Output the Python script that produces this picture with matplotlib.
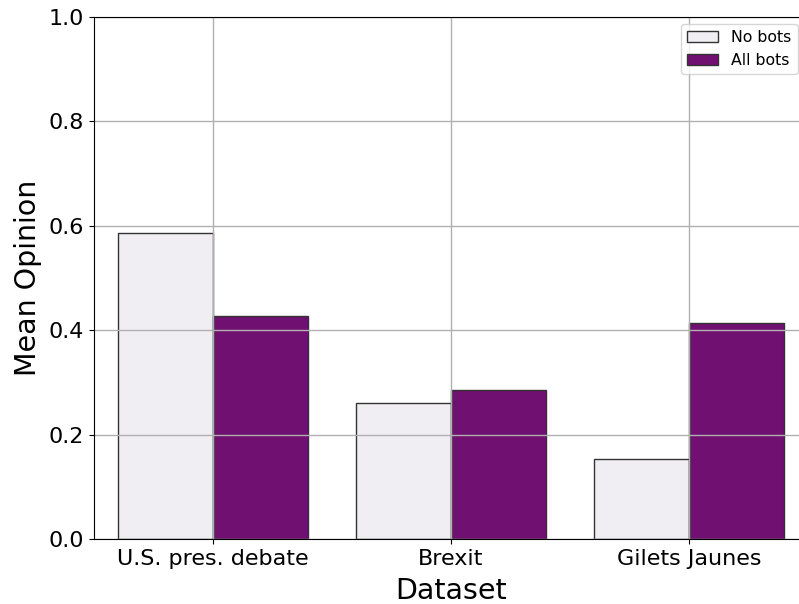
import matplotlib
matplotlib.use("Agg")
import matplotlib.pyplot as plt
import numpy as np

# data
datasets = ["U.S. pres. debate", "Brexit", "Gilets Jaunes"]
no_bots = [0.586, 0.260, 0.153]
all_bots = [0.427, 0.285, 0.414]
series_names = ["No bots", "All bots"]
colors = ["#f0eef2", "#701070"]

fig = plt.figure(figsize=(7.99, 6.04), dpi=100)
# axes runs a bit past the right edge, as in the reference
ax = fig.add_axes([94 / 799, 1 - 539 / 604, (808 - 94) / 799, (539 - 17) / 604])

x = np.arange(len(datasets))
w = 0.4
ax.bar(x - w / 2, no_bots, w, color=colors[0], edgecolor="#333333", linewidth=1, label=series_names[0])
ax.bar(x + w / 2, all_bots, w, color=colors[1], edgecolor="#333333", linewidth=1, label=series_names[1])

ax.set_xlim(-0.5, len(datasets) - 0.5)
ax.set_ylim(0, 1.0)
ax.set_yticks([0.0, 0.2, 0.4, 0.6, 0.8, 1.0])
ax.set_xticks(x)
ax.set_xticklabels(datasets)
ax.tick_params(labelsize=16)
ax.grid(True, color="#b0b0b0", linewidth=1)

ax.set_xlabel("Dataset", fontsize=20.5, labelpad=6)
ax.set_ylabel("Mean Opinion", fontsize=20.5, labelpad=5)

fig.legend(loc="upper right", bbox_to_anchor=(797.5 / 799, 1 - 24 / 604),
           borderaxespad=0, fontsize=11.3)

fig.savefig("out.png", dpi=100)
